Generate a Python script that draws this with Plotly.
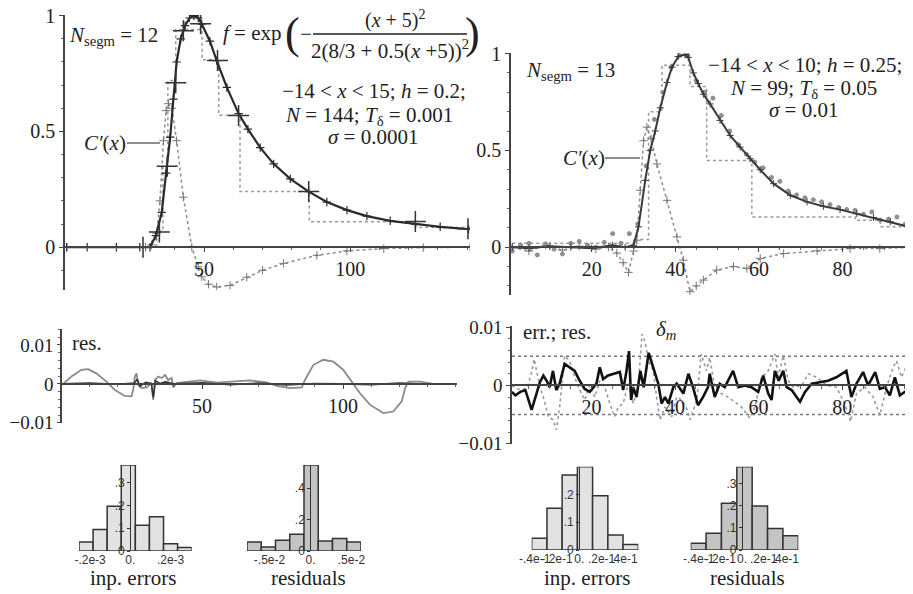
import plotly.graph_objects as go

# reference canvas size and page offset (browser body margin)
REF_W, REF_H = 913, 594
OFF = 8
W, H = REF_W - OFF, REF_H - OFF

# ---------------- data ----------------
# Top-left panel (N_segm = 12)
tl_f_x = [3, 10, 20, 28, 31.5, 33.5, 35.5, 37, 38.4, 39.5, 40.6, 42, 43.5, 45, 46.5, 48, 49.2, 52, 54.3,
          57.8, 61.8, 65, 69.2, 73.8, 79.5, 85.8, 92.0, 98.9, 105.7, 113.7, 122.3, 130.8, 140.5]
tl_f_y = [0, 0, 0, 0, 0.0, 0.05, 0.15, 0.32, 0.475, 0.64, 0.80, 0.90, 0.957, 0.99, 1.0, 0.99, 0.964, 0.89,
          0.806, 0.69, 0.577, 0.51, 0.43, 0.36, 0.295, 0.24, 0.195, 0.16, 0.134, 0.114, 0.10, 0.088, 0.078]
tl_dc_x = [3, 20, 30, 32, 33.8, 34.9, 36.1, 37.0, 37.8, 39.0, 40.6, 42.9, 45.8, 48.0, 49.2, 51.5, 54.3,
           58.9, 64.6, 70, 77.2, 88.6, 98.9, 111.5, 125, 141]
tl_dc_y = [0, 0, 0.0, 0.01, 0.06, 0.2, 0.46, 0.59, 0.62, 0.6, 0.46, 0.216, 0.0, -0.085, -0.128, -0.16,
           -0.172, -0.165, -0.13, -0.1, -0.07, -0.035, -0.016, -0.006, -0.002, 0]
tl_step_x = [3, 33.8, 35.9, 37.6, 40.3, 49.3, 55.0, 62.3, 86.0, 122.5, 141]
tl_step_y = [0, 0.07, 0.35, 0.72, 0.94, 0.81, 0.57, 0.24, 0.11, 0.085, 0.085]
tl_node_x = [29.1, 34.7, 37.4, 40.3, 42.9, 48.8, 54.6, 61.8, 85.8, 122.3, 140.3]
tl_node_y = [0, 0.066, 0.35, 0.71, 0.935, 0.965, 0.806, 0.569, 0.24, 0.111, 0.08]

# Top-right panel (N_segm = 13)
tr_data_x = [1, 3, 5, 7, 9, 11, 13, 15, 17, 19, 21, 23, 25, 27, 29, 31, 33, 35, 37, 39, 41, 43, 45, 47,
             49, 51, 53, 55, 57, 59, 61, 63, 65, 67, 69, 71, 73, 75, 77, 79, 81, 83, 85, 87, 89, 91, 93, 95]
tr_data_y = [-0.02, 0.01, 0.02, -0.04, 0.015, -0.01, -0.035, 0.02, 0.03, 0.01, 0.0, 0.025, 0.07, 0.02,
             0.07, 0.12, 0.42, 0.66, 0.80, 0.93, 0.99, 0.99, 0.86, 0.80, 0.77, 0.68, 0.60, 0.53, 0.48, 0.44,
             0.41, 0.36, 0.34, 0.29, 0.27, 0.255, 0.245, 0.234, 0.22, 0.205, 0.195, 0.19, 0.17, 0.182, 0.14,
             0.145, 0.156, 0.12]
tr_f_x = [1, 5, 10, 15, 20, 25, 28, 30.0, 31.2, 32.8, 34.0, 35.2, 36.4, 38, 39.2, 40.7, 42.3, 43.1, 44.3,
          45.5, 46.7, 48.3, 50.7, 53.1, 55.5, 57.9, 60.3, 63.5, 67.5, 71.5, 75.4, 79.4, 83.4, 87.4, 91.4,
          95.4, 96.6]
tr_f_y = [0.0, -0.005, 0.005, 0.0, -0.005, 0.01, 0.0, 0.01, 0.105, 0.345, 0.5, 0.6, 0.72, 0.85, 0.93,
          0.985, 0.995, 0.98, 0.90, 0.845, 0.79, 0.74, 0.655, 0.577, 0.517, 0.457, 0.40, 0.328, 0.268,
          0.234, 0.211, 0.194, 0.173, 0.153, 0.131, 0.108, 0.101]
tr_dc_x = [1, 5, 9, 13, 17, 21, 24, 26, 27.5, 28.8, 30.0, 30.8, 31.6, 32.4, 33.2, 34.2, 35.6, 38.0, 40.4,
           41.9, 43.5, 45.0, 46.7, 49.9, 53.9, 57.1, 60.3, 65.9, 73.9, 81.8, 88.9, 96.6]
tr_dc_y = [0.0, -0.02, 0.01, -0.015, 0.005, -0.01, 0.0, -0.03, -0.08, -0.13, -0.02, 0.036, 0.294, 0.55,
           0.62, 0.56, 0.43, 0.242, 0.053, -0.067, -0.23, -0.2, -0.17, -0.118, -0.10, -0.11, -0.058,
           -0.033, -0.019, -0.007, -0.007, 0.0]
tr_step_x = [1, 30.2, 33.6, 36.8, 43.5, 47.5, 58.3, 83.0, 89.0, 96.6]
tr_step_y = [0.02, 0.04, 0.70, 0.94, 0.83, 0.448, 0.156, 0.139, 0.105, 0.105]

# Middle-left panel (residuals)
ml_res_x = [0.8, 3.7, 7.2, 9.6, 12.5, 16.1, 19.0, 22.6, 25.0, 25.6, 26.2, 26.8, 27.4, 28.6, 30.3, 32.1,
            32.7, 33.3, 34.5, 35.7, 36.9, 38.0, 39.2, 39.8, 41.0, 49.3, 55.2, 61.1, 67.0, 72.9, 76.5, 81.2,
            85.4, 86.5, 89.5, 93.0, 96.6, 100.1, 103.1, 106.0, 109.6, 114.3, 117.8, 120.8, 122.0, 123.2,
            127.3, 132.0, 139.7]
ml_res_y = [0, 0.0019, 0.0036, 0.0038, 0.0027, 0.0006, -0.0015, -0.0031, -0.0032, -0.0015, 0.0019, 0.0027,
            -0.0003, -0.0011, -0.0009, 0.0002, -0.0041, 0.001, 0.0019, 0.0015, 0.0023, 0.001, 0.0015,
            -0.0009, 0.0002, 0.0009, 0.0003, 0.0006, 0.0009, 0.0004, -0.0005, -0.0011, -0.0009, 0.001,
            0.0049, 0.0062, 0.0057, 0.0036, 0.0006, -0.0024, -0.0054, -0.0075, -0.0071, -0.0045, -0.0011,
            0.0006, 0.0006, 0.0, 0.0]
ml_dark_x = [0.8, 10, 20, 26, 27, 28, 30, 32, 32.7, 33.5, 35, 37, 40, 50, 60, 70, 80, 90, 100, 110, 120,
             130, 139.7]
ml_dark_y = [0, 0.0002, -0.0001, 0.0002, 0.0012, -0.0006, 0.0004, 0.0001, -0.0035, 0.0008, 0.0001, 0.0005,
             0.0, 0.0003, -0.0002, 0.0002, -0.0003, 0.0001, 0.0, -0.0002, 0.0002, -0.0001, 0.0]

# Middle-right panel (errors; residuals)
mr_res_x = [1.0, 1.8, 3.0, 4.2, 5.7, 6.9, 7.7, 8.5, 9.3, 10.0, 10.8, 11.6, 12.4, 13.6, 14.8, 16.0, 17.2,
            18.4, 19.6, 20.4, 21.2, 22.0, 22.8, 24.0, 25.2, 26.8, 27.6, 28.4, 29.0, 29.5, 30.0, 30.8, 31.7,
            32.5, 33.7, 34.5, 35.2, 36.0, 36.8, 37.6, 38.4, 39.6, 40.4, 41.2, 42.0, 43.2, 44.3, 45.5, 46.7,
            47.9, 48.3, 49.5, 50.7, 51.9, 53.9, 55.1, 56.7, 58.3, 59.9, 61.1, 62.3, 63.1, 63.9, 64.8, 65.9,
            66.7, 67.9, 69.9, 71.1, 72.7, 74.6, 76.6, 78.6, 81.0, 82.2, 83.4, 85.0, 86.2, 87.9, 89.0, 90.2,
            91.4, 92.6, 93.8, 95.0, 96.2]
mr_res_y = [-0.0011, -0.0017, -0.0011, -0.0008, -0.0042, -0.0011, 0.0006, 0.0017, 0.0008, -0.0003, 0.0025,
            -0.0008, 0.0003, 0.0037, 0.0031, 0.0025, 0.0008, -0.0006, -0.0011, -0.0003, 0.0003, 0.0031,
            0.0011, 0.0017, 0.002, 0.0023, -0.0008, 0.0025, 0.0059, -0.0025, -0.0003, -0.002, 0.0025,
            -0.0003, 0.0056, 0.0037, 0.002, 0.0003, -0.0031, -0.002, -0.0031, -0.0003, 0.0003, -0.0006,
            -0.0014, 0.002, -0.0003, -0.0034, -0.002, -0.0003, 0.002, -0.002, 0.0003, -0.0003, 0.0025,
            -0.0003, 0.0, -0.0003, -0.0011, 0.0017, -0.0014, -0.0025, 0.0025, 0.0008, 0.0025, -0.0003,
            -0.0008, -0.0028, -0.0011, 0.0003, 0.0006, 0.0008, 0.0014, 0.0025, -0.002, 0.0003, 0.0023, 0.0,
            0.0023, -0.0006, -0.0003, -0.0017, 0.0014, -0.0017, -0.0011, -0.002]
mr_err_x = [1.0, 2.1, 3.6, 4.8, 5.6, 6.3, 7.7, 8.5, 9.7, 10.8, 11.6, 12.4, 13.6, 14.8, 16.0, 17.2, 18.4,
            19.6, 20.8, 22.0, 23.2, 24.4, 25.6, 26.4, 27.6, 28.8, 30.0, 31.2, 32.1, 32.8, 33.7, 34.8, 35.6,
            36.4, 37.6, 39.2, 40.4, 41.6, 42.8, 43.6, 45.2, 46.3, 47.5, 48.3, 49.5, 51.1, 52.7, 54.7, 55.9,
            57.9, 59.1, 60.7, 62.3, 63.9, 64.7, 65.9, 67.1, 68.3, 70.3, 71.9, 73.9, 76.3, 78.6, 80.6, 82.0,
            83.4, 85.4, 87.4, 89.0, 90.6, 92.2, 93.0, 94.2, 95.4, 96.5]
mr_err_y = [0.0, -0.0006, -0.0008, 0.0, 0.002, 0.0045, -0.0003, -0.002, -0.0054, -0.0059, -0.0076, -0.0037,
            0.0051, 0.0042, 0.0014, -0.0008, -0.0025, 0.0, -0.002, 0.0008, -0.0003, -0.0031, -0.0054,
            -0.0037, -0.0031, 0.0003, -0.0031, -0.0003, 0.0088, 0.0076, 0.0042, 0.0025, -0.002, -0.0059,
            -0.0037, -0.0054, -0.002, -0.0025, -0.004, -0.0059, -0.0025, 0.0054, 0.0025, 0.0048, -0.0003,
            -0.0014, -0.002, -0.0031, -0.0037, -0.0056, -0.0037, 0.0014, 0.0025, 0.0054, 0.0014, 0.0051,
            0.0008, -0.0003, 0.0, 0.002, 0.0014, 0.0, -0.0003, -0.0031, -0.0062, -0.0014, -0.0003, -0.002,
            -0.0051, -0.0003, 0.0031, 0.0042, 0.0014, 0.0034, 0.002]
delta_m = 0.005
mr_x_ends = [1.0, 96.7]

# Histograms (bin edges and relative frequencies)
h1_edges = [-2.55e-4, -1.85e-4, -1.15e-4, -0.45e-4, 0.25e-4, 0.95e-4, 1.65e-4, 2.35e-4, 3.05e-4]
h1_freq = [0.040, 0.094, 0.197, 0.378, 0.113, 0.150, 0.032, 0.015]
h2_edges = [-0.00775, -0.00601, -0.00427, -0.00253, -0.00079, 0.00095, 0.00269, 0.00443, 0.00617]
h2_freq = [0.057, 0.026, 0.068, 0.106, 0.547, 0.064, 0.079, 0.057]
h3_edges = [-0.0427, -0.0290, -0.0154, -0.0017, 0.0119, 0.0256, 0.0392, 0.0529]
h3_freq = [0.042, 0.15, 0.27, 0.30, 0.195, 0.054, 0.02]
h4_edges = [-0.0474, -0.0332, -0.0190, -0.0048, 0.0094, 0.0236, 0.0378, 0.0520]
h4_freq = [0.030, 0.075, 0.21, 0.375, 0.198, 0.097, 0.064]

h1_ticks = ([-2e-4, 0, 2e-4], ["-.2e-3", "0.", ".2e-3"])
h2_ticks = ([-5e-3, 0, 5e-3], ["-.5e-2", "0.", ".5e-2"])
h3_ticks = ([-0.04, -0.02, 0, 0.02, 0.04, 0.06], ["-.4e-1", "-.2e-1", "0.", ".2e-1", ".4e-1", ".6e-1"])
h4_ticks = ([-0.04, -0.02, 0, 0.02, 0.04], ["-.4e-1", "-.2e-1", "0.", ".2e-1", ".4e-1"])
h1_yt = ([0, 0.1, 0.2, 0.3], ["0", ".1", ".2", ".3"])
h2_yt = ([0, 0.2, 0.4], ["0", ".2", ".4"])
h3_yt = ([0, 0.1, 0.2], ["0", ".1", ".2"])
h4_yt = ([0, 0.1, 0.2, 0.3], ["0", ".1", ".2", ".3"])


# ---------------- helpers (reference pixels -> paper fractions) ----------------
def fx(px):
    return (px - OFF) / W


def fy(py):
    return 1 - (py - OFF) / H


def xd(a, b):
    return [fx(a), fx(b)]


def yd(top, bot):
    return [fy(bot), fy(top)]


def zpos(dom, rng):
    return dom[0] + (0 - rng[0]) / (rng[1] - rng[0]) * (dom[1] - dom[0])


SERIF = "Liberation Serif, Times New Roman, Times, serif"
SANS = "Liberation Sans, Arial, sans-serif"
AX = "#444"
DARK = "#2a2a2a"
GRAY = "#8c8c8c"
FS = 21
TFS = 20

base_ax = dict(showline=True, linecolor=AX, linewidth=1.6, ticks="outside", ticklen=4, tickcolor=AX,
               tickwidth=1.3, showgrid=False, zeroline=False, automargin=False, ticklabeloverflow="allow",
               tickfont=dict(family=SERIF, size=TFS, color="#222"))


def minor(d):
    return dict(dtick=d, ticks="outside", ticklen=2.5, tickcolor="#666", tickwidth=1, showgrid=False)


fig = go.Figure()

P = {
    "tl": dict(xdom=xd(65, 470), ydom=yd(15, 290), xr=[2.4, 141], yr=[-0.185, 1.003]),
    "tr": dict(xdom=xd(511, 912), ydom=yd(53, 295), xr=[0.7, 96.6], yr=[-0.247, 1.003]),
    "ml": dict(xdom=xd(62, 457), ydom=yd(329, 423), xr=[0.35, 140.4], yr=[-0.01005, 0.0141]),
    "mr": dict(xdom=xd(512, 912), ydom=yd(326, 444), xr=[1.0, 96.7], yr=[-0.01005, 0.0102]),
}

# ---------- top-left traces ----------
fig.add_trace(go.Scatter(x=tl_step_x, y=tl_step_y, mode="lines", line=dict(color="#9a9a9a", width=1.5,
                         dash="dot", shape="hv"), xaxis="x", yaxis="y"))
fig.add_trace(go.Scatter(x=tl_dc_x, y=tl_dc_y, mode="lines+markers",
                         line=dict(color=GRAY, width=1.5, dash="dot"),
                         marker=dict(symbol="cross-thin", size=6, line=dict(color="#777", width=1)),
                         xaxis="x", yaxis="y"))
fig.add_trace(go.Scatter(x=tl_f_x, y=tl_f_y, mode="lines+markers", line=dict(color=DARK, width=2.2),
                         marker=dict(symbol="cross-thin", size=6, line=dict(color=DARK, width=1.2)),
                         xaxis="x", yaxis="y"))
fig.add_trace(go.Scatter(x=tl_node_x, y=tl_node_y, mode="markers",
                         marker=dict(symbol="cross-thin", size=15, line=dict(color="#333", width=1.5)),
                         xaxis="x", yaxis="y"))

# ---------- top-right traces ----------
fig.add_trace(go.Scatter(x=tr_step_x, y=tr_step_y, mode="lines", line=dict(color="#9a9a9a", width=1.5,
                         dash="dot", shape="hv"), xaxis="x2", yaxis="y2"))
fig.add_trace(go.Scatter(x=tr_dc_x, y=tr_dc_y, mode="lines+markers",
                         line=dict(color=GRAY, width=1.5, dash="dot"),
                         marker=dict(symbol="cross-thin", size=6, line=dict(color="#777", width=1)),
                         xaxis="x2", yaxis="y2"))
fig.add_trace(go.Scatter(x=tr_data_x, y=tr_data_y, mode="markers",
                         marker=dict(symbol="circle-cross", size=4, color="#a8a8a8",
                                     line=dict(color="#8a8a8a", width=1)),
                         xaxis="x2", yaxis="y2"))
fig.add_trace(go.Scatter(x=tr_f_x, y=tr_f_y, mode="lines+markers", line=dict(color="#3a3a3a", width=2),
                         marker=dict(symbol="cross-thin", size=5, line=dict(color="#3a3a3a", width=1)),
                         xaxis="x2", yaxis="y2"))

# ---------- middle-left traces ----------
fig.add_trace(go.Scatter(x=ml_res_x, y=ml_res_y, mode="lines", line=dict(color="#8a8a8a", width=1.8),
                         xaxis="x3", yaxis="y3"))
fig.add_trace(go.Scatter(x=ml_dark_x, y=ml_dark_y, mode="lines", line=dict(color="#333", width=1.6),
                         xaxis="x3", yaxis="y3"))

# ---------- middle-right traces ----------
for lev in (delta_m, -delta_m):
    fig.add_trace(go.Scatter(x=mr_x_ends, y=[lev, lev], mode="lines",
                             line=dict(color="#777", width=1.4, dash="dot"), xaxis="x4", yaxis="y4"))
fig.add_trace(go.Scatter(x=mr_err_x, y=mr_err_y, mode="lines", line=dict(color="#9a9a9a", width=1.6,
                         dash="dot"), xaxis="x4", yaxis="y4"))
fig.add_trace(go.Scatter(x=mr_res_x, y=mr_res_y, mode="lines", line=dict(color="#111", width=2.6),
                         xaxis="x4", yaxis="y4"))

# ---------- histograms ----------
HIST = [
    ("5", h1_edges, h1_freq, "#e2e2e2", xd(79, 191.7), h1_ticks, h1_yt),
    ("6", h2_edges, h2_freq, "#c4c4c4", xd(247, 361), h2_ticks, h2_yt),
    ("7", h3_edges, h3_freq, "#e2e2e2", xd(531.7, 638.3), h3_ticks, h3_yt),
    ("8", h4_edges, h4_freq, "#c4c4c4", xd(690.7, 798.3), h4_ticks, h4_yt),
]
hist_ydom = [yd(465, 551), yd(465, 551), yd(466.7, 550), yd(466.7, 550)]

layout_axes = {}
for (k, edges, freq, col, xdom, xt, yt), ydom in zip(HIST, hist_ydom):
    centers = [(edges[i] + edges[i + 1]) / 2 for i in range(len(freq))]
    widths = [edges[i + 1] - edges[i] for i in range(len(freq))]
    fig.add_trace(go.Bar(x=centers, y=freq, width=widths,
                         marker=dict(color=col, line=dict(color="#333", width=1.5)),
                         xaxis="x" + k, yaxis="y" + k))
    xr = [edges[0], edges[-1]]
    yr = [0, max(freq)]
    layout_axes["xaxis" + k] = dict(domain=xdom, range=xr, anchor="y" + k, showline=False, showgrid=False,
                                    zeroline=False, ticks="", tickvals=xt[0], ticktext=xt[1], tickangle=0,
                                    automargin=False, ticklabeloverflow="allow",
                                    tickfont=dict(family=SANS, size=12, color="#333"))
    layout_axes["yaxis" + k] = dict(domain=ydom, range=yr, anchor="free", position=zpos(xdom, xr),
                                    showline=True, linecolor="#333", linewidth=1.4, showgrid=False,
                                    zeroline=False, ticks="outside", ticklen=3, tickcolor="#333",
                                    tickvals=yt[0], ticktext=yt[1], automargin=False,
                                    ticklabeloverflow="allow",
                                    tickfont=dict(family=SANS, size=12, color="#333"))


def panel_axes(p, xdt, xmin, ydt, ymin, yfs=TFS):
    d = P[p]
    xa = dict(base_ax, domain=d["xdom"], range=d["xr"], anchor="free", position=zpos(d["ydom"], d["yr"]),
              tick0=0, dtick=xdt, minor=minor(xmin))
    ya = dict(base_ax, domain=d["ydom"], range=d["yr"], tick0=0, dtick=ydt, minor=minor(ymin),
              tickfont=dict(family=SERIF, size=yfs, color="#222"))
    return xa, ya


xa1, ya1 = panel_axes("tl", 50, 10, 0.5, 0.1)
xa2, ya2 = panel_axes("tr", 20, 5, 0.5, 0.1)
xa3, ya3 = panel_axes("ml", 50, 10, 0.01, 0.002, yfs=19)
xa4, ya4 = panel_axes("mr", 20, 5, 0.01, 0.002, yfs=19)
ya1["anchor"] = "x"
ya2["anchor"] = "x2"
ya3["anchor"] = "x3"
ya4["anchor"] = "x4"
ya3["ticklen"] = 3


def ann(text, px, py, size=FS, xanchor="center", family=SERIF):
    return dict(text=text, x=fx(px), y=fy(py), xref="paper", yref="paper", showarrow=False,
                xanchor=xanchor, yanchor="middle", font=dict(family=family, size=size, color="#222"))


annotations = [
    ann("<i>N</i><sub>segm</sub> = 12", 67, 36, xanchor="left"),
    ann("<i>f</i> = exp", 252, 33),
    ann("(", 292, 34, size=44),
    ann("−", 306, 34),
    ann("(<i>x</i> + 5)<sup>2</sup>", 395, 20, size=20),
    ann("2(8/3 + 0.5(<i>x</i> +5))<sup>2</sup>", 390, 50),
    ann(")", 472, 34, size=44),
    ann("−14 &lt; <i>x</i> &lt; 15; <i>h</i> = 0.2;", 374, 91),
    ann("<i>N</i> = 144; <i>T</i><sub>δ</sub> = 0.001", 369, 116),
    ann("<i>σ</i> = 0.0001", 373, 137),
    ann("<i>C′</i>(<i>x</i>)", 105, 143),
    ann("<i>N</i><sub>segm</sub> = 13", 524, 71, xanchor="left"),
    ann("−14 &lt; <i>x</i> &lt; 10; <i>h</i> = 0.25;", 805, 65),
    ann("<i>N</i> = 99; <i>T</i><sub>δ</sub> = 0.05", 803, 89),
    ann("<i>σ</i> = 0.01", 803, 110),
    ann("<i>C′</i>(<i>x</i>)", 584, 158),
    ann("res.", 70, 343, xanchor="left"),
    ann("err.; res.", 521, 332, xanchor="left"),
    ann("<i>δ<sub>m</sub></i>", 666, 330),
    ann("inp. errors", 133, 578),
    ann("residuals", 308, 578),
    ann("inp. errors", 587, 578),
    ann("residuals", 747, 578),
]

shapes = [
    dict(type="line", xref="paper", yref="paper", x0=fx(313), x1=fx(467), y0=fy(34), y1=fy(34),
         line=dict(color="#222", width=1.3)),
    dict(type="line", xref="paper", yref="paper", x0=fx(127), x1=fx(160), y0=fy(143), y1=fy(143),
         line=dict(color="#222", width=1.2)),
    dict(type="line", xref="paper", yref="paper", x0=fx(605), x1=fx(640), y0=fy(158), y1=fy(158),
         line=dict(color="#222", width=1.2)),
]

fig.update_layout(
    width=W, height=H, margin=dict(l=0, r=0, t=0, b=0, pad=0, autoexpand=False), autosize=False,
    paper_bgcolor="white", plot_bgcolor="rgba(0,0,0,0)", showlegend=False,
    font=dict(family=SERIF, size=FS, color="#222"),
    xaxis=xa1, yaxis=ya1, xaxis2=xa2, yaxis2=ya2, xaxis3=xa3, yaxis3=ya3, xaxis4=xa4, yaxis4=ya4,
    annotations=annotations, shapes=shapes,
    **layout_axes,
)

fig.write_html("out.html")
